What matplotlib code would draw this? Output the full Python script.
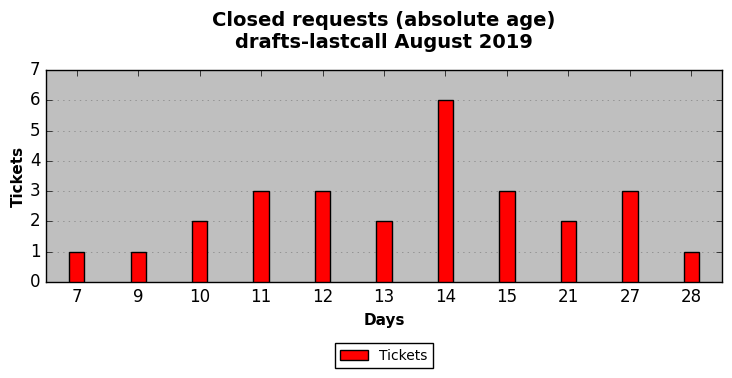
import matplotlib
matplotlib.use("Agg")
import matplotlib.pyplot as plt
import numpy as np

days = ["7", "9", "10", "11", "12", "13", "14", "15", "21", "27", "28"]
tickets = [1, 1, 2, 3, 3, 2, 6, 3, 2, 3, 1]

plt.style.use("classic")
fig = plt.figure(figsize=(7.32, 3.78), dpi=100, facecolor="white")
ax = fig.add_axes([46 / 732, 1 - 282 / 378, 676 / 732, 212 / 378])
ax.set_facecolor("#bfbfbf")

x = np.arange(len(days))
ax.bar(x, tickets, width=0.25, color="red", edgecolor="black", align="center",
       label="Tickets", zorder=3)

ax.set_xlim(-0.5, len(days) - 0.5)
ax.set_ylim(0, 7)
ax.set_xticks(x)
ax.set_xticklabels(days)
ax.set_yticks(range(8))
ax.tick_params(labelsize=12)
ax.yaxis.grid(True, linestyle=":", color="#808080", zorder=0)
ax.set_axisbelow(True)

ax.set_xlabel("Days", fontsize=11, fontweight="bold")
ax.set_ylabel("Tickets", fontsize=11, fontweight="bold", labelpad=3)
ax.set_title("Closed requests (absolute age)\ndrafts-lastcall August 2019",
             fontsize=14, fontweight="bold", pad=16)

ax.legend(loc="upper center", bbox_to_anchor=(0.5, -0.255), fontsize=10,
          handlelength=2, frameon=True, fancybox=False)

fig.savefig("out.png", dpi=100, facecolor="white")
